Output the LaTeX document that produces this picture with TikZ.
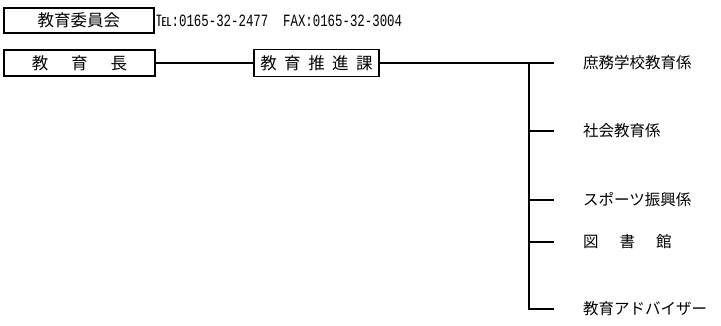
\documentclass[tikz,border=0pt]{standalone}
\usepackage{fontspec}
\newfontfamily\jpfont{Noto Sans CJK JP}
\newfontfamily\telfont[FakeStretch=0.72]{Liberation Mono}
\usetikzlibrary{positioning}

\begin{document}
\begin{tikzpicture}[x=1pt, y=-1pt,
    box/.style={draw, line width=1.8pt, inner sep=0pt, minimum height=26pt, font=\jpfont\fontsize{16.5}{17}\selectfont},
    sect/.style={anchor=west, inner sep=0pt, font=\jpfont\fontsize{15.5}{16}\selectfont},
    conn/.style={line width=2.5pt}]
\useasboundingbox (0,0) rectangle (721,325);
\node[box, minimum width=150pt, minimum height=25pt] (iinkai) at (79,20.5) {教育委員会};
\node[anchor=west, inner sep=0pt] (tel) at (156,20.5) {{\jpfont\fontsize{15.5}{15}\selectfont ℡}{\telfont\fontsize{17.2}{17}\selectfont :0165-32-2477\ \ FAX:0165-32-3004}};
\node[box, minimum width=151pt] (kyoikucho) at (79.5,63) {教\hspace{23pt}育\hspace{23pt}長};
\node[box, minimum width=125pt, minimum height=27pt] (suishin) at (316.5,63) {教\hspace{7.5pt}育\hspace{7.5pt}推\hspace{7.5pt}進\hspace{7.5pt}課};
\node[sect] (shomu) at (583,63) {庶務学校教育係};
\node[sect] (shakai) at (583,131) {社会教育係};
\node[sect] (sports) at (583,200) {スポーツ振興係};
\node[sect] (tosho) at (583,242) {図\hspace{21pt}書\hspace{21pt}館};
\node[sect] (adviser) at (583,309) {教育アドバイザー};
\coordinate (bus) at (529,63);
\draw[conn] (kyoikucho) -- (suishin);
\draw[conn] (suishin.east) -- ([xshift=-29pt]shomu.west);
\draw[conn] (bus) |- ([xshift=-29pt]adviser.west);
\foreach \s in {shakai, sports, tosho}
  \draw[conn] (bus |- \s.west) -- ([xshift=-29pt]\s.west);
\end{tikzpicture}
\end{document}
